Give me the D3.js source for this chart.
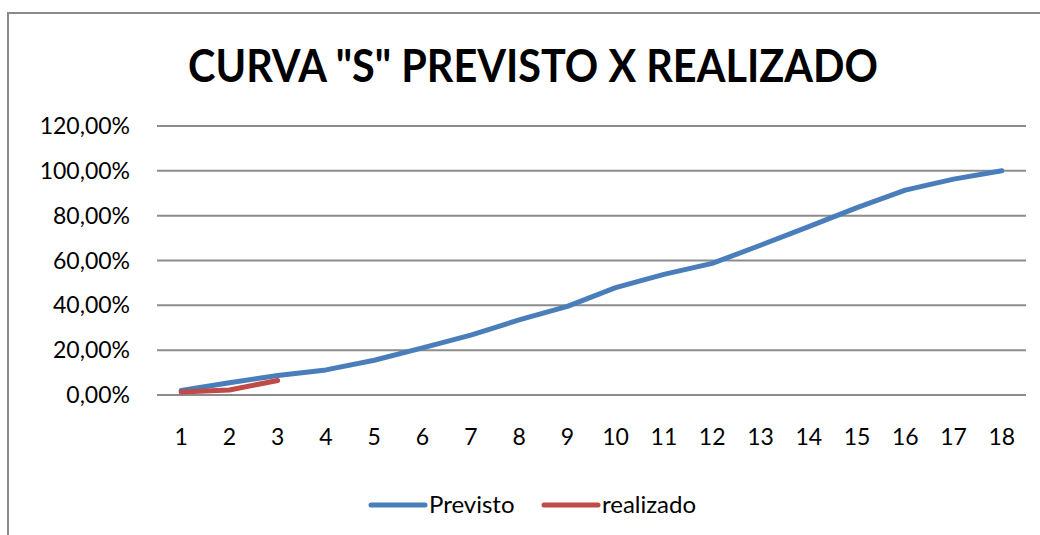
<!DOCTYPE html>
<html>
<head>
<meta charset="utf-8">
<script src="https://cdn.jsdelivr.net/npm/d3@7"></script>
<style>
    body { margin: 0; background: #fff; }
    svg { display: block; }
</style>
</head>
<body>
<div id="chart"></div>
<script>
// data
var categories = [1, 2, 3, 4, 5, 6, 7, 8, 9, 10, 11, 12, 13, 14, 15, 16, 17, 18];
var previsto = [2.0, 5.5, 8.7, 11.2, 15.5, 21.0, 26.7, 33.5, 39.5, 47.9, 53.8, 58.7, 66.8, 75.1, 83.6, 91.4, 96.3, 100.0];
var realizado = [1.3, 2.2, 6.5];
var yTicks = [0, 20, 40, 60, 80, 100, 120];
var seriesNames = ["Previsto", "realizado"];
var seriesColors = ["#4a7ebb", "#be4b48"];

var width = 1040, height = 535;
var font = "Lato, 'Open Sans', sans-serif";

var svg = d3.select("#chart").append("svg")
    .attr("width", width)
    .attr("height", height);

svg.append("rect")
    .attr("width", width).attr("height", height)
    .attr("fill", "#fff");

// chart area frame (runs off the right and bottom edges)
svg.append("path")
    .attr("d", "M8," + (height + 5) + "V13H" + (width + 5))
    .attr("fill", "none")
    .attr("stroke", "#8a8a8a")
    .attr("stroke-width", 2);

svg.append("text")
    .attr("x", 188)
    .attr("y", 82)
    .attr("textLength", 690)
    .attr("lengthAdjust", "spacingAndGlyphs")
    .attr("font-family", font)
    .attr("font-weight", "bold")
    .attr("font-size", 45)
    .attr("fill", "#000")
    .text('CURVA "S" PREVISTO X REALIZADO');

var plot = { left: 157, right: 1026, top: 126, bottom: 395 };

var x = d3.scaleBand()
    .domain(categories)
    .range([plot.left, plot.right]);

var y = d3.scaleLinear()
    .domain([0, 120])
    .range([plot.bottom, plot.top]);

var fmt = function (v) { return d3.format(".2f")(v).replace(".", ",") + "%"; };

// gridlines
svg.append("g").selectAll("line")
    .data(yTicks)
    .enter().append("line")
    .attr("x1", plot.left).attr("x2", plot.right)
    .attr("y1", function (d) { return y(d); })
    .attr("y2", function (d) { return y(d); })
    .attr("stroke", "#8c8c8c")
    .attr("stroke-width", 2);

// y labels
svg.append("g").selectAll("text")
    .data(yTicks)
    .enter().append("text")
    .attr("x", 130)
    .attr("y", function (d) { return y(d) + 8; })
    .attr("text-anchor", "end")
    .attr("font-family", font)
    .attr("font-size", 23)
    .attr("fill", "#000")
    .text(fmt);

// x labels
svg.append("g").selectAll("text")
    .data(categories)
    .enter().append("text")
    .attr("x", function (d) { return x(d) + x.bandwidth() / 2; })
    .attr("y", 445)
    .attr("text-anchor", "middle")
    .attr("font-family", font)
    .attr("font-size", 23)
    .attr("fill", "#000")
    .text(function (d) { return d; });

var line = d3.line()
    .x(function (d, i) { return x(categories[i]) + x.bandwidth() / 2; })
    .y(function (d) { return y(d); });

[previsto, realizado].forEach(function (s, i) {
    svg.append("path")
        .datum(s)
        .attr("d", line)
        .attr("fill", "none")
        .attr("stroke", seriesColors[i])
        .attr("stroke-width", 5)
        .attr("stroke-linejoin", "round")
        .attr("stroke-linecap", "round");
});

// legend
var legendX = [371, 544];
seriesNames.forEach(function (name, i) {
    var g = svg.append("g").attr("transform", "translate(" + legendX[i] + ",505)");
    g.append("line")
        .attr("x1", 0).attr("x2", 54)
        .attr("stroke", seriesColors[i])
        .attr("stroke-width", 5)
        .attr("stroke-linecap", "round");
    g.append("text")
        .attr("x", 58)
        .attr("y", 8)
        .attr("font-family", font)
        .attr("font-size", 24)
        .attr("fill", "#000")
        .text(name);
});
</script>
</body>
</html>
